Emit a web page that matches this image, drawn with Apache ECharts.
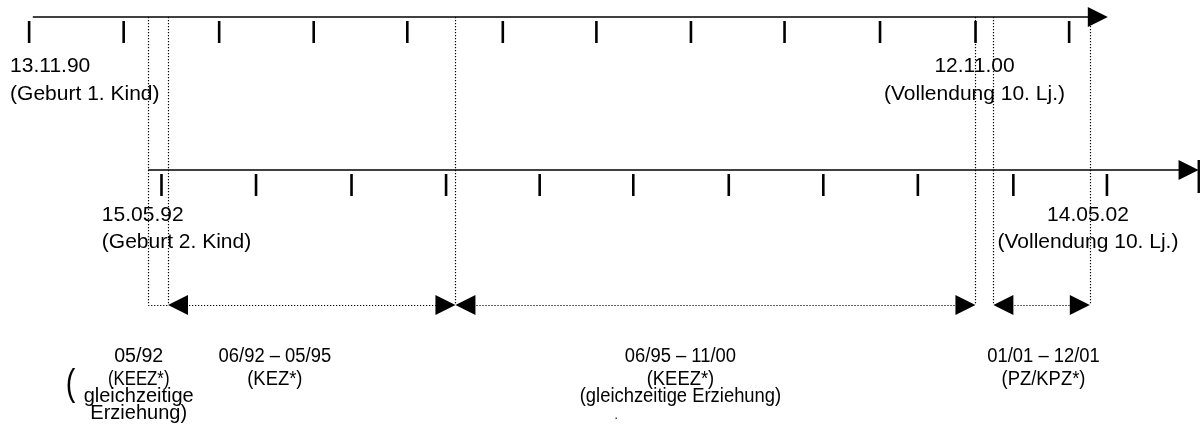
<!DOCTYPE html>
<html><head><meta charset="utf-8">
<script src="https://cdn.jsdelivr.net/npm/echarts@6/dist/echarts.min.js"></script>
<style>html,body{margin:0;padding:0;background:#fff}#c{width:1203px;height:432px}</style>
</head><body><div id="c"></div>
<script>
// ---------- DATA (x values in decimal years) ----------
const topTicks    = [1990.87,1991.87,1992.88,1993.88,1994.87,1995.88,1996.87,1997.87,1998.86,1999.87,2000.88,2001.87];
const bottomTicks = [1992.27,1993.27,1994.28,1995.28,1996.27,1997.26,1998.27,1999.27,2000.27,2001.28,2002.27];
const topAxisRange    = [1990.91, 2002.28];
const bottomAxisRange = [1992.13, 2003.24];
const periodBounds = [1992.13, 1992.34, 1995.38, 2000.88, 2001.07, 2002.09];
const periodSpans  = [[1992.34, 1995.38], [1995.38, 2000.88], [2001.07, 2002.09]];
const boxSpan      = [1992.13, 1992.34];

const eventTexts = [
  ["13.11.90", "(Geburt 1. Kind)"],
  ["12.11.00", "(Vollendung 10. Lj.)"],
  ["15.05.92", "(Geburt 2. Kind)"],
  ["14.05.02", "(Vollendung 10. Lj.)"]
];
const eventAnchors = [1990.67, 2000.87, 1991.64, 2002.07];

const periodTexts = [
  ["05/92", "(KEEZ*)", "gleichzeitige", "Erziehung)"],
  ["06/92 \u2013 05/95", "(KEZ*)"],
  ["06/95 \u2013 11/00", "(KEEZ*)", "(gleichzeitige Erziehung)"],
  ["01/01 \u2013 12/01", "(PZ/KPZ*)"]
];
const periodAnchors = [1992.03, 1993.47, 1997.76, 2001.60];

// ---------- LAYOUT (pixel rows / styles) ----------
const ROW = { top: 17, bottom: 170, span: 305, ev1: 66, ev2: 94, bev1: 215, bev2: 242, p: [356, 379, 396, 413] };
const eventLayout = [
  { row: 'top', align: 'left' }, { row: 'top', align: 'center' },
  { row: 'bottom', align: 'left' }, { row: 'bottom', align: 'center' }
];
const periodScaleX = [[0.98, 0.84, 1.0, 1.0], [0.92, 0.92], [0.92, 0.92, 0.92], [0.92, 0.92]];
const FONT = 'Liberation Sans, Arial, sans-serif';
const DOT = { stroke: '#000', lineWidth: 1.2, lineDash: [1.2, 1.8] };

const chart = echarts.init(document.getElementById('c'), null, { renderer: 'canvas' });

function tri(x, y, dir, len, half) {
  return { type: 'polygon', shape: { points: [[x, y], [x - dir * len, y - half], [x - dir * len, y + half]] }, style: { fill: '#000' } };
}

const series = [];

// axis lines with arrowheads
series.push({
  type: 'custom', silent: true,
  data: [[topAxisRange[0], topAxisRange[1], ROW.top], [bottomAxisRange[0], bottomAxisRange[1], ROW.bottom]],
  renderItem: function (params, api) {
    const a = api.coord([api.value(0), api.value(2)]);
    const b = api.coord([api.value(1), api.value(2)]);
    const children = [
      { type: 'line', shape: { x1: a[0], y1: a[1], x2: b[0] - 18, y2: b[1] }, style: { stroke: '#000', lineWidth: 1.7 } },
      tri(b[0], b[1], 1, 20, 10)
    ];
    if (params.dataIndex === 1) {
      children.push({ type: 'rect', shape: { x: b[0] - 1, y: b[1] - 10, width: 2.4, height: 33 }, style: { fill: '#000' } });
    }
    return { type: 'group', children: children };
  }
});

// ticks
function tickSeries(vals, row) {
  return {
    type: 'custom', silent: true,
    data: vals.map(v => [v, row]),
    renderItem: function (params, api) {
      const p = api.coord([api.value(0), api.value(1)]);
      return { type: 'rect', shape: { x: p[0] - 1.2, y: p[1] + 4, width: 2.6, height: 22 }, style: { fill: '#000' } };
    }
  };
}
series.push(tickSeries(topTicks, ROW.top));
series.push(tickSeries(bottomTicks, ROW.bottom));

// dotted verticals
series.push({
  type: 'custom', silent: true,
  data: periodBounds.map(v => [v, ROW.top, ROW.span]),
  renderItem: function (params, api) {
    const a = api.coord([api.value(0), api.value(1)]);
    const b = api.coord([api.value(0), api.value(2)]);
    return { type: 'line', shape: { x1: Math.round(a[0]) + 0.5, y1: a[1], x2: Math.round(b[0]) + 0.5, y2: b[1] }, style: DOT };
  }
});

// dotted spans with arrows
series.push({
  type: 'custom', silent: true,
  data: periodSpans.map(s => [s[0], s[1], ROW.span]),
  renderItem: function (params, api) {
    const a = api.coord([api.value(0), api.value(2)]);
    const b = api.coord([api.value(1), api.value(2)]);
    return { type: 'group', children: [
      { type: 'line', shape: { x1: a[0] + 18, y1: Math.round(a[1]) + 0.5, x2: b[0] - 18, y2: Math.round(b[1]) + 0.5 }, style: DOT },
      tri(a[0], a[1], -1, 20, 10),
      tri(b[0], b[1], 1, 20, 10)
    ] };
  }
});
// small dotted box bottom
series.push({
  type: 'custom', silent: true,
  data: [[boxSpan[0], boxSpan[1], ROW.span]],
  renderItem: function (params, api) {
    const a = api.coord([api.value(0), api.value(2)]);
    const b = api.coord([api.value(1), api.value(2)]);
    return { type: 'line', shape: { x1: a[0], y1: Math.round(a[1]) + 0.5, x2: b[0], y2: Math.round(b[1]) + 0.5 }, style: DOT };
  }
});

// event labels
const evData = [];
eventTexts.forEach((lines, i) => {
  const L = eventLayout[i];
  const rows = L.row === 'top' ? [ROW.ev1, ROW.ev2] : [ROW.bev1, ROW.bev2];
  lines.forEach((t, j) => evData.push({ value: [eventAnchors[i], rows[j]], text: t, align: L.align }));
});
series.push({
  type: 'custom', silent: true,
  data: evData.map(d => d.value),
  renderItem: function (params, api) {
    const d = evData[params.dataIndex];
    const p = api.coord([api.value(0), api.value(1)]);
    return { type: 'text', x: p[0], y: p[1], style: { text: d.text, fill: '#000', font: '21px ' + FONT, align: d.align, verticalAlign: 'middle' } };
  }
});

// period labels
const pData = [];
periodTexts.forEach((lines, i) => {
  lines.forEach((t, j) => pData.push({ value: [periodAnchors[i], ROW.p[j]], text: t, sx: periodScaleX[i][j] }));
});
series.push({
  type: 'custom', silent: true,
  data: pData.map(d => d.value),
  renderItem: function (params, api) {
    const d = pData[params.dataIndex];
    const p = api.coord([api.value(0), api.value(1)]);
    return { type: 'text', x: p[0], y: p[1], scaleX: d.sx, style: { text: d.text, fill: '#000', font: '20px ' + FONT, align: 'center', verticalAlign: 'middle' } };
  }
});
// large opening bracket and stray dot
series.push({
  type: 'custom', silent: true,
  data: [[1991.31, 385, 0], [1997.08, 416, 1]],
  renderItem: function (params, api) {
    const p = api.coord([api.value(0), api.value(1)]);
    const big = api.value(2) === 0;
    return { type: 'text', x: p[0], y: p[1], scaleX: big ? 0.8 : 1, style: { text: big ? '(' : '.', fill: '#000', font: (big ? '36px ' : '12px ') + FONT, align: 'center', verticalAlign: 'middle' } };
  }
});

chart.setOption({
  animation: false,
  backgroundColor: '#fff',
  grid: { left: 0, right: 0, top: 0, bottom: 0 },
  xAxis: { type: 'value', min: 1990.563, max: 2003.287, show: false },
  yAxis: { type: 'value', min: 0, max: 432, inverse: true, show: false },
  series: series
});
</script></body></html>
